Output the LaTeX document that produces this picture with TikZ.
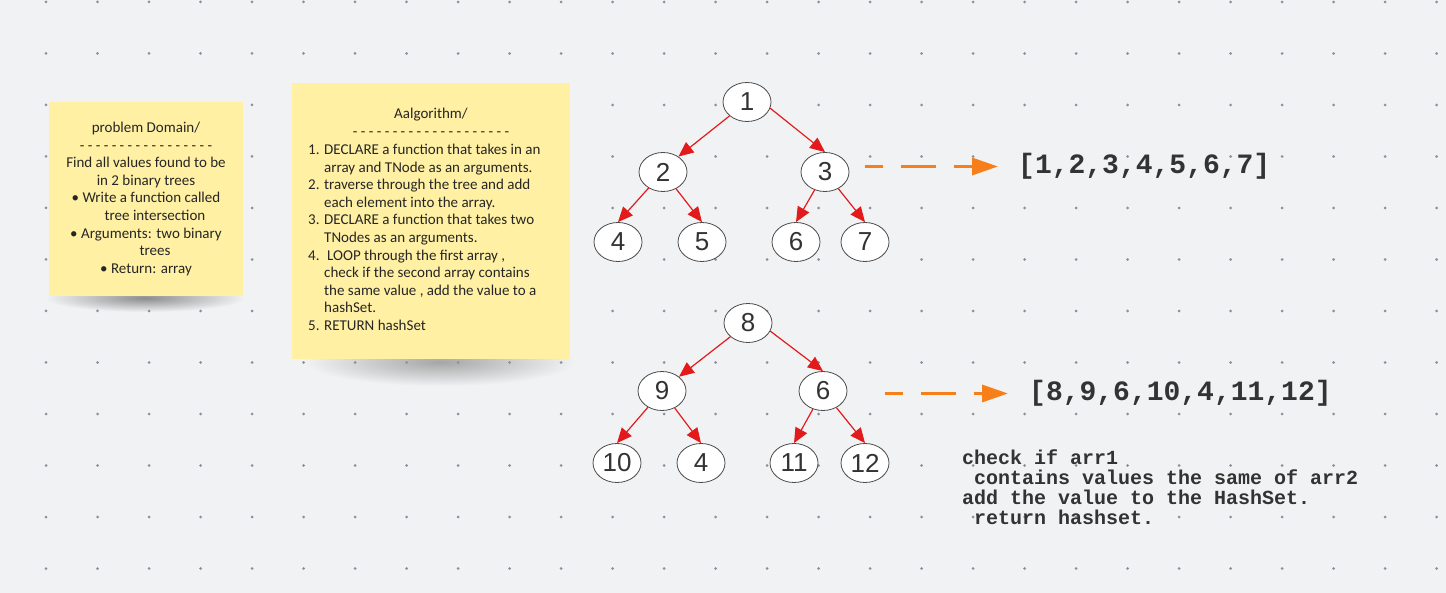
\documentclass[tikz,border=0pt]{standalone}
\usepackage{fontspec}
\setmainfont{Carlito}
\newfontfamily\treefont{Liberation Sans}
\newfontfamily\codefont{Liberation Mono}
\usetikzlibrary{arrows.meta,shapes.geometric}
\definecolor{canvas}{HTML}{F1F2F4}
\definecolor{griddot}{HTML}{8C909C}
\definecolor{sticky}{HTML}{FFF0A3}
\definecolor{ink}{HTML}{333333}
\definecolor{linkred}{HTML}{E31A1C}
\definecolor{flow}{HTML}{F77F1A}
\begin{document}
\begin{tikzpicture}[x=1pt,y=-1pt,
    num/.style={ellipse,draw=black!70,line width=0.8pt,fill=white,minimum width=48pt,minimum height=39pt,
      inner sep=0pt,text=ink,font=\treefont\fontsize{26}{26}\selectfont},
    link/.style={draw=linkred,line width=1.2pt,-{Triangle[length=15pt,width=13pt]}},
    result/.style={draw=flow,line width=3.5pt,dash pattern=on 35pt off 18pt,dash phase=17pt,
      -{Triangle[length=26pt,width=17pt]}},
    list/.style={anchor=west,inner sep=0pt,text=ink,font=\codefont\bfseries\fontsize{28}{28}\selectfont},
    memo/.style={text=black!85,inner sep=0pt,font=\fontsize{15}{17.6}\selectfont}]
  \useasboundingbox (0,0) rectangle (1446,593);
  \fill[canvas] (0,0) rectangle (1446,593);

  % shadows under the notes
  \shade[inner color=black!45,outer color=canvas] (145,298) ellipse [x radius=100pt,y radius=14pt];
  \shade[inner color=black!35,outer color=canvas] (440,362) ellipse [x radius=135pt,y radius=24pt];

  % dot grid
  \foreach \i in {0,...,27}
    \foreach \j in {0,...,11}
      \fill[griddot] (46+51.5*\i,2+51.5*\j) circle (1.5pt);

  % sticky notes
  \fill[sticky] (49,102) rectangle (243,296);
  \fill[sticky] (292,83) rectangle (570,359);

  \node[memo,align=center] (domain) at (146,199) {problem Domain/\\
    - - - - - - - - - - - - - - - - -\\
    Find all values found to be\\
    in 2 binary trees\\
    \textbullet\ Write a function called\\
    \hspace*{18pt}tree intersection\\
    \textbullet\ Arguments: two binary\\
    \hspace*{18pt}trees\\
    \textbullet\ Return: array};

  \node[memo,align=center] (algo) at (431,122.5) {Aalgorithm/\\ - - - - - - - - - - - - - - - - - - - -};
  \node[memo,anchor=west] (steps) at (308,239) {%
    \begin{tabular}{@{}p{16pt}@{}l@{}}
      1. & DECLARE a function that takes in an\\
         & array and TNode as an arguments.\\
      2. & traverse through the tree and add\\
         & each element into the array.\\
      3. & DECLARE a function that takes two\\
         & TNodes as an arguments.\\
      4. & \hspace*{3pt}LOOP through the first array ,\\
         & check if the second array contains\\
         & the same value , add the value to a\\
         & hashSet.\\
      5. & RETURN hashSet
    \end{tabular}};

  % first tree
  \node[num] (n1) at (747,102) {1};
  \node[num] (n2) at (663,172) {2};
  \node[num] (n3) at (825,172) {3};
  \node[num] (n4) at (618,242) {4};
  \node[num] (n5) at (702,242) {5};
  \node[num] (n6) at (796,242) {6};
  \node[num] (n7) at (865,242) {7};
  \draw[link] (n1) -- (n2.45);
  \draw[link] (n1.-15) -- (n3.north);
  \draw[link] (n2) -- (n4.north);
  \draw[link] (n2) -- (n5.north);
  \draw[link] (n3) -- (n6.north);
  \draw[link] (n3) -- (n7.north);

  % second tree
  \node[num] (m8) at (748,323) {8};
  \node[num] (m9) at (662,391) {9};
  \node[num] (m6) at (823,391) {6};
  \node[num] (m10) at (617,463) {10};
  \node[num] (m4) at (701,463) {4};
  \node[num] (m11) at (794,463) {11};
  \node[num] (m12) at (865,463) {12};
  \draw[link] (m8) -- (m9.40);
  \draw[link] (m8.-20) -- (m6.north);
  \draw[link] (m9) -- (m10.north);
  \draw[link] (m9) -- (m4.north);
  \draw[link] (m6) -- (m11.north);
  \draw[link] (m6) -- (m12.north);

  % arrays
  \node[list] (arr1) at (1018,166.5) {[1,2,3,4,5,6,7]};
  \node[list] (arr2) at (1029,393.5) {[8,9,6,10,4,11,12]};
  \coordinate (from1) at (865,166.5);
  \coordinate (from2) at (885,393.5);
  \draw[result,shorten >=20pt] (from1) -- (arr1);
  \draw[result,shorten >=21pt] (from2) -- (arr2);

  \node[anchor=north west,align=left,inner sep=0pt,text=ink,
    font=\codefont\bfseries\fontsize{20}{20}\selectfont] (check) at (962,449.5) {check if arr1\\
    \hspace*{12pt}contains values the same of arr2\\
    add the value to the HashSet.\\
    \hspace*{12pt}return hashset.};
\end{tikzpicture}
\end{document}
